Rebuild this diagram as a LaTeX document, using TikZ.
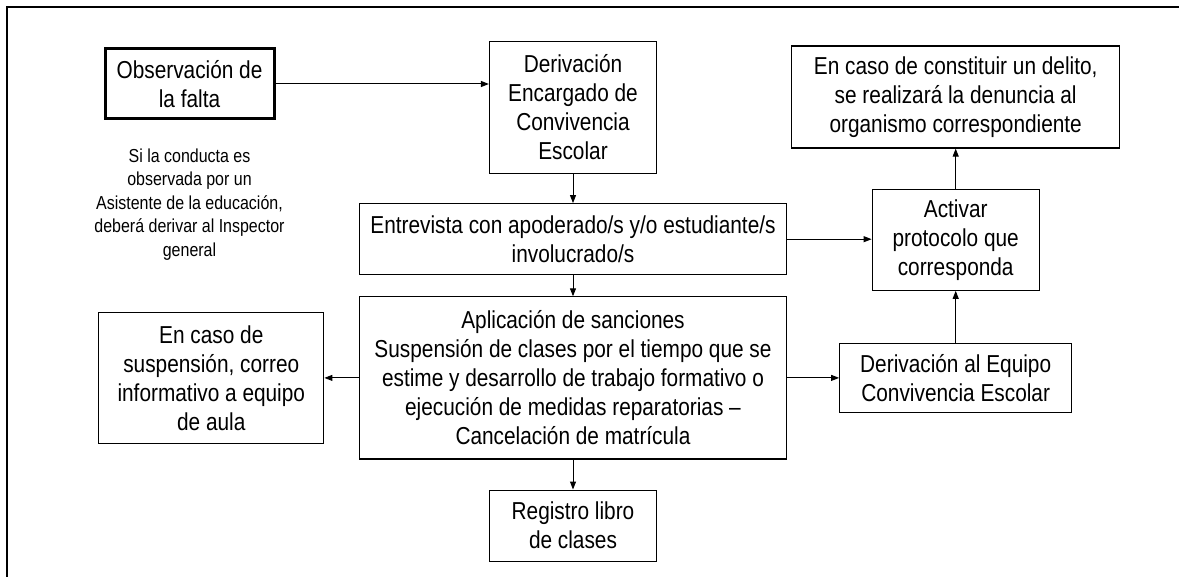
\documentclass[tikz,border=0pt]{standalone}
\usepackage{fontspec}
\setmainfont[FakeStretch=0.85]{Liberation Sans}
\usetikzlibrary{arrows.meta,positioning}

\begin{document}
\begin{tikzpicture}[x=1pt,y=-1pt,
      box_st/.style={
         rectangle,
         draw=black,
         line width=1.2pt,
         align=center,
         inner sep=3pt,
         font=\fontsize{24.5}{29}\selectfont},
      box_thick/.style={
         box_st,
         line width=3pt},
      note_st/.style={
         align=center,
         inner sep=0pt,
         font=\fontsize{18.8}{23.5}\selectfont},
      arrow_black/.style={
         -{Triangle[length=8pt,width=6pt]},
         line width=1pt},
]
      \useasboundingbox (0,0) rectangle (1179,577);
      % page frame
      \draw[line width=2pt] (1179,7.3) -- (7,7.3) -- (7,577);

      %start
      \node[box_thick,minimum width=169pt,minimum height=70pt] (obs) at (189.5,84)
         {Observación de\\la falta};
      \node[note_st,below=28pt of obs] (note)
         {Si la conducta es\\observada por un\\Asistente de la educación,\\deberá derivar al Inspector\\general};

      %central column
      \node[box_st,minimum width=167pt,minimum height=132pt] (der) at (573,107.5)
         {Derivación\\Encargado de\\Convivencia\\Escolar};
      \node[box_st,minimum width=427pt,minimum height=71pt,below=29pt of der] (ent)
         {Entrevista con apoderado/s y/o estudiante/s\\involucrado/s};
      \node[box_st,minimum width=427pt,minimum height=162pt,below=21pt of ent] (apl)
         {Aplicación de sanciones\\Suspensión de clases por el tiempo que se\\estime y desarrollo de trabajo formativo o\\ejecución de medidas reparatorias --\\Cancelación de matrícula};
      \node[box_st,minimum width=167pt,minimum height=71pt,below=30pt of apl] (reg)
         {Registro libro\\de clases};

      %sides
      \node[box_st,minimum width=225pt,minimum height=131pt,left=34.5pt of apl] (sus)
         {En caso de\\suspensión, correo\\informativo a equipo\\de aula};
      \node[box_st,minimum width=232pt,minimum height=69pt,right=52pt of apl] (equ)
         {Derivación al Equipo\\Convivencia Escolar};
      \node[box_st,minimum width=167pt,minimum height=101pt,above=52pt of equ] (act)
         {Activar\\protocolo que\\corresponda};
      \node[box_st,minimum width=328pt,minimum height=102pt,above=40pt of act] (den)
         {En caso de constituir un delito,\\se realizará la denuncia al\\organismo correspondiente};

      \draw[arrow_black] (obs.east) -- (obs.east -| der.west);
      \draw[arrow_black] (ent.east) -- (ent.east -| act.west);
      \draw[arrow_black] (apl.west) -- (apl.west -| sus.east);
      \draw[arrow_black] (apl.east) -- (apl.east -| equ.west);
      \foreach \i/\j in {der/ent, ent/apl, apl/reg, equ/act, act/den}
         \draw[arrow_black] (\i) -- (\j);
\end{tikzpicture}
\end{document}
